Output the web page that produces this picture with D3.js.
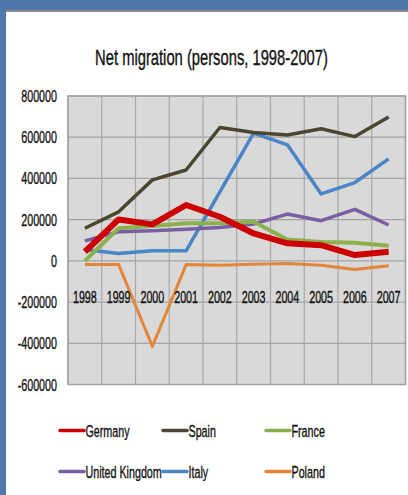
<!DOCTYPE html>
<html>
<head>
<meta charset="utf-8">
<script src="https://cdn.jsdelivr.net/npm/d3@7"></script>
<style>
  body { margin: 0; background: #5079ab; }
  svg { display: block; }
  text { font-family: "Liberation Sans", Arial, sans-serif; fill: #111; stroke: #111; stroke-width: 0.35px; }
</style>
</head>
<body>
<div id="chart"></div>
<script>
// data
var years = ["1998", "1999", "2000", "2001", "2002", "2003", "2004", "2005", "2006", "2007"];
var germany = [44000, 201000, 177000, 271000, 214000, 133000, 85000, 76000, 28000, 44000];
var spain = [158000, 238000, 393000, 441000, 647000, 623000, 611000, 641000, 603000, 698000];
var france = [0, 158000, 169000, 182000, 182000, 190000, 104000, 92000, 88000, 73000];
var uk = [97000, 141000, 146000, 153000, 162000, 179000, 227000, 195000, 250000, 174000];
var italy = [55000, 36000, 49000, 49000, 335000, 620000, 563000, 325000, 380000, 495000];
var poland = [-18000, -18000, -415000, -18000, -21000, -16000, -13000, -21000, -42000, -24000];
var yTicks = [800000, 600000, 400000, 200000, 0, -200000, -400000, -600000];

var series = [
  { name: "Germany", values: germany, color: "#cc0000", w: 6 },
  { name: "Spain", values: spain, color: "#4a4630", w: 3.5 },
  { name: "France", values: france, color: "#8cb04e", w: 4 },
  { name: "United Kingdom", values: uk, color: "#7a5ea2", w: 3.5 },
  { name: "Italy", values: italy, color: "#4a86c6", w: 3.5 },
  { name: "Poland", values: poland, color: "#e4863a", w: 3 }
];
// draw order (Germany on top of the thin ones)
var drawOrder = ["Poland", "Italy", "United Kingdom", "France", "Spain", "Germany"];

var W = 408, H = 495;
var sx = 0.65; // condensed look of the text

var svg = d3.select("#chart").append("svg")
  .attr("width", W)
  .attr("height", H);

// white slide panel
svg.append("rect")
  .attr("x", 6).attr("y", 11)
  .attr("width", W - 6).attr("height", H - 11)
  .attr("fill", "#fff");
svg.append("line")
  .attr("x1", 6).attr("x2", W)
  .attr("y1", 11).attr("y2", 11)
  .attr("stroke", "#8a8a8a").attr("stroke-width", 2);

function label(x, y, str, size, anchor, scl) {
  return svg.append("text")
    .attr("transform", "translate(" + x + "," + y + ") scale(" + (scl || sx) + ",1)")
    .attr("font-size", size)
    .attr("text-anchor", anchor || "start")
    .text(str);
}

// title, squeezed to the width seen in the picture
var title = label(211.5, 65, "Net migration (persons, 1998-2007)", 22, "middle", 1);
var tw = title.node().getComputedTextLength();
title.attr("transform", "translate(211.5,65) scale(" + (233 / tw) + ",1)");

var plot = { left: 68, top: 96, right: 405.5, bottom: 384.5 };

var x = d3.scaleBand()
  .domain(years)
  .range([plot.left, plot.right]);
var y = d3.scaleLinear()
  .domain([-600000, 800000])
  .range([plot.bottom, plot.top]);

var g = svg.append("g");

g.append("rect")
  .attr("x", plot.left).attr("y", plot.top)
  .attr("width", plot.right - plot.left)
  .attr("height", plot.bottom - plot.top)
  .attr("fill", "#d9d9d9");

// horizontal gridlines
g.selectAll(".hgrid")
  .data(yTicks)
  .enter().append("line")
  .attr("x1", plot.left).attr("x2", plot.right)
  .attr("y1", function (d) { return y(d); })
  .attr("y2", function (d) { return y(d); })
  .attr("stroke", "#a3a3a3").attr("stroke-width", 1.2);

// vertical gridlines at band edges
var edges = years.map(function (d) { return x(d); }).concat([plot.right]);
g.selectAll(".vgrid")
  .data(edges)
  .enter().append("line")
  .attr("x1", function (d) { return d; })
  .attr("x2", function (d) { return d; })
  .attr("y1", plot.top).attr("y2", plot.bottom)
  .attr("stroke", "#a8a8a8").attr("stroke-width", 1.2);

g.append("rect")
  .attr("x", plot.left).attr("y", plot.top)
  .attr("width", plot.right - plot.left)
  .attr("height", plot.bottom - plot.top)
  .attr("fill", "none")
  .attr("stroke", "#a0a0a0").attr("stroke-width", 1.5);

// y tick labels
yTicks.forEach(function (t) {
  label(57, y(t) + 6, t, 16.5, "end");
});

// x labels (sit below the zero line)
years.forEach(function (yr) {
  label(x(yr) + x.bandwidth() / 2, y(0) + 42, yr, 16.5, "middle");
});

var line = d3.line()
  .x(function (d, i) { return x(years[i]) + x.bandwidth() / 2; })
  .y(function (d) { return y(d); });

drawOrder.forEach(function (name) {
  var s = series.find(function (d) { return d.name === name; });
  g.append("path")
    .datum(s.values)
    .attr("d", line)
    .attr("fill", "none")
    .attr("stroke", s.color)
    .attr("stroke-width", s.w)
    .attr("stroke-linejoin", "round");
});

// legend, 3 columns x 2 rows
var legX = [60, 163, 266], legY = [430.5, 471.5];
series.forEach(function (s, i) {
  var lx = legX[i % 3], ly = legY[Math.floor(i / 3)];
  svg.append("line")
    .attr("x1", lx).attr("x2", lx + 24)
    .attr("y1", ly).attr("y2", ly)
    .attr("stroke", s.color).attr("stroke-width", 3.5)
    .attr("stroke-linecap", "round");
  label(lx + 25.5, ly + 6, s.name, 16.5);
});
</script>
</body>
</html>
